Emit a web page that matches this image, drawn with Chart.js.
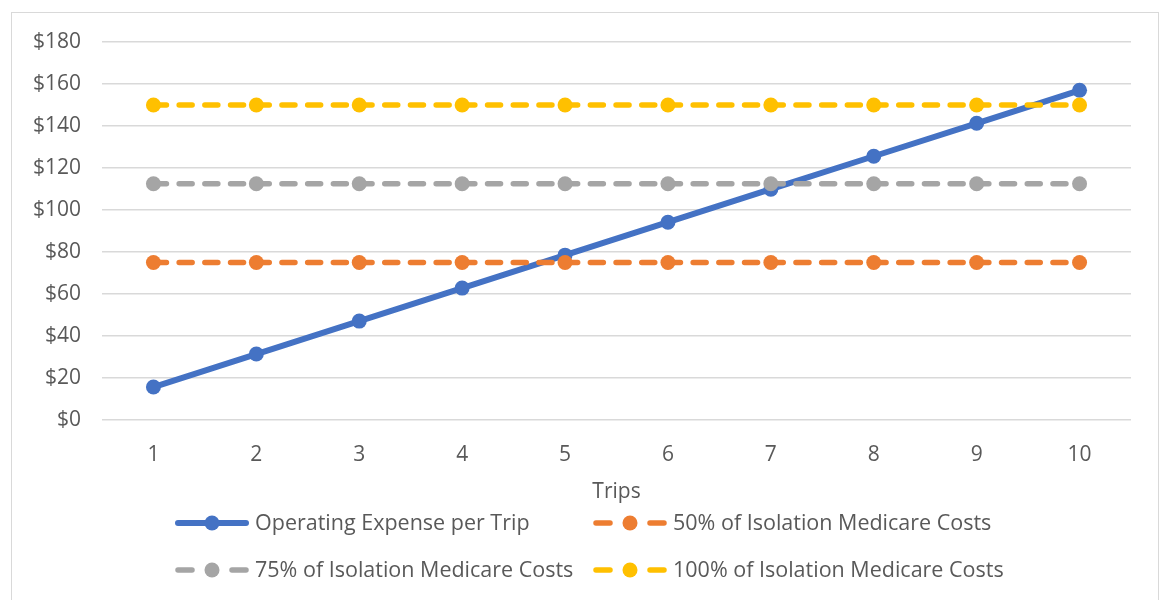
<!DOCTYPE html>
<html>
<head>
<meta charset="utf-8">
<script src="https://cdn.jsdelivr.net/npm/chart.js@4.4.0/dist/chart.umd.min.js"></script>
<style>
  html, body { margin: 0; padding: 0; background: #fff; }
  #wrap { position: relative; width: 1165px; height: 600px; }
  #frame { position: absolute; left: 11px; top: 12px; width: 1148px; height: 600px; border: 1px solid #d9d9d9; box-sizing: border-box; }
  canvas { position: absolute; left: 0; top: 0; }
</style>
</head>
<body>
<div id="wrap">
  <div id="frame"></div>
  <canvas id="myChart" width="1165" height="600"></canvas>
</div>
<script>
// chart data
var trips = ['1', '2', '3', '4', '5', '6', '7', '8', '9', '10'];
var operatingExpense = [15.7, 31.4, 47.1, 62.8, 78.5, 94.2, 109.9, 125.6, 141.3, 157.0];
var isolation50 = [75, 75, 75, 75, 75, 75, 75, 75, 75, 75];
var isolation75 = [112.5, 112.5, 112.5, 112.5, 112.5, 112.5, 112.5, 112.5, 112.5, 112.5];
var isolation100 = [150, 150, 150, 150, 150, 150, 150, 150, 150, 150];
var seriesNames = ['Operating Expense per Trip', '50% of Isolation Medicare Costs', '75% of Isolation Medicare Costs', '100% of Isolation Medicare Costs'];
var seriesColors = ['#4472C4', '#ED7D31', '#A5A5A5', '#FFC000'];

var FONT = "'Open Sans', sans-serif";
var TEXT_COLOR = '#595959';

function lineSet(i, data, dashed) {
  return {
    label: seriesNames[i],
    data: data,
    borderColor: seriesColors[i],
    backgroundColor: seriesColors[i],
    borderWidth: dashed ? 5.5 : 6,
    borderDash: dashed ? [13, 12.7] : [],
    borderCapStyle: 'round',
    pointRadius: 7.5,
    pointHoverRadius: 7.5,
    pointBorderWidth: 0,
    tension: 0,
    order: 4 - i,
    _dashed: dashed
  };
}

// legend drawn on the canvas, two columns
var legendPlugin = {
  id: 'excelLegend',
  afterDraw: function(chart) {
    var ctx = chart.ctx;
    var pos = [[175, 523], [593, 523], [175, 570], [593, 570]];
    ctx.save();
    chart.data.datasets.forEach(function(ds, i) {
      var x = pos[i][0], y = pos[i][1];
      ctx.strokeStyle = ds.borderColor;
      ctx.fillStyle = ds.borderColor;
      ctx.lineCap = 'round';
      ctx.lineWidth = ds.borderWidth;
      ctx.beginPath();
      if (ds._dashed) {
        ctx.moveTo(x + 3, y); ctx.lineTo(x + 17, y);
        ctx.moveTo(x + 57, y); ctx.lineTo(x + 71, y);
      } else {
        ctx.moveTo(x + 3, y); ctx.lineTo(x + 71, y);
      }
      ctx.stroke();
      ctx.beginPath();
      ctx.arc(x + 37, y, 7.5, 0, Math.PI * 2);
      ctx.fill();
      ctx.fillStyle = TEXT_COLOR;
      ctx.font = '21.5px ' + FONT;
      ctx.textBaseline = 'middle';
      ctx.fillText(ds.label, x + 80, y + 1);
    });
    ctx.restore();
  }
};

var ctx = document.getElementById('myChart').getContext('2d');
var chart = new Chart(ctx, {
  type: 'line',
  data: {
    labels: trips,
    datasets: [
      lineSet(0, operatingExpense, false),
      lineSet(1, isolation50, true),
      lineSet(2, isolation75, true),
      lineSet(3, isolation100, true)
    ]
  },
  options: {
    responsive: false,
    animation: false,
    layout: { padding: { left: 0, right: 34, top: 42, bottom: 90 } },
    plugins: {
      legend: { display: false },
      tooltip: { enabled: false }
    },
    scales: {
      x: {
        offset: true,
        grid: { display: false },
        border: { display: false },
        ticks: { color: TEXT_COLOR, font: { family: FONT, size: 21 }, padding: 14 },
        title: { display: true, text: 'Trips', color: TEXT_COLOR, font: { family: FONT, size: 21 }, padding: { top: 0, bottom: 5 } },
        afterFit: function(scale) { scale.height = 90; }
      },
      y: {
        min: 0,
        max: 180,
        ticks: {
          stepSize: 20,
          color: TEXT_COLOR,
          font: { family: FONT, size: 21 },
          padding: 21,
          callback: function(v) { return '$' + v; }
        },
        grid: { color: '#d9d9d9', lineWidth: 1.5, drawTicks: false },
        border: { display: false },
        afterFit: function(scale) { scale.width = 102; }
      }
    }
  },
  plugins: [legendPlugin]
});
</script>
</body>
</html>
